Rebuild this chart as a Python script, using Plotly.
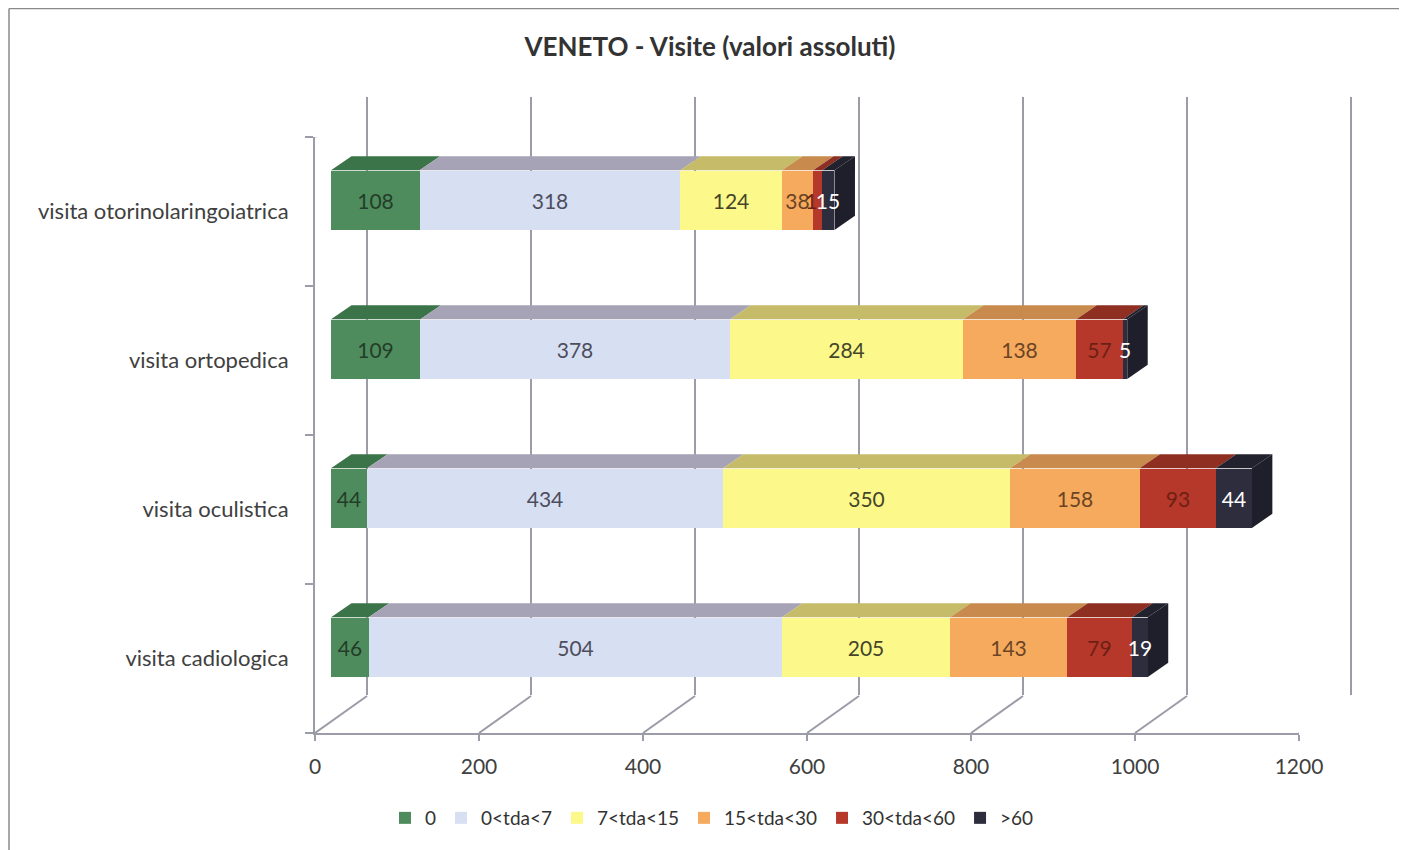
import numpy as np
import plotly.graph_objects as go

# ---------------- data ----------------
categories = ["visita cadiologica", "visita oculistica", "visita ortopedica",
              "visita otorinolaringoiatrica"]
series_names = ["0", "0<tda<7", "7<tda<15", "15<tda<30", "30<tda<60", ">60"]
s_0 = [46, 44, 109, 108]
s_0_7 = [504, 434, 378, 318]
s_7_15 = [205, 350, 284, 124]
s_15_30 = [143, 158, 138, 38]
s_30_60 = [79, 93, 57, 11]
s_60 = [19, 44, 5, 15]
x_ticks = [0, 200, 400, 600, 800, 1000, 1200]
title_text = "VENETO - Visite (valori assoluti)"

series = [s_0, s_0_7, s_7_15, s_15_30, s_30_60, s_60]

# ---------------- styles ----------------
FONT = "Lato, 'Open Sans', sans-serif"
front_cols = ["#4f8c5d", "#d7dff3", "#fcf98a", "#f5aa5e", "#b5382a", "#2d2d3e"]
top_cols = ["#3b7449", "#a7a3b6", "#c6bb68", "#c98a4e", "#8e2f22", "#22222e"]
side_col = "#1f1f2b"
text_cols = ["#233d29", "#4d4d5c", "#45452a", "#6b4424", "#6e1f14", "#ffffff"]
grid_col = "#9c9ca8"
W, H = 1407, 850
OFF = 8  # page body margin

px_per = 984 / 1200.0
def fx(p):
    return (p - OFF) / W
def fy(p):
    return (H - (p - OFF)) / H

bar_w = 0.4
dx = 25.0      # depth in value units
dy = 0.095     # depth in category units

ypos = list(range(len(categories)))

fig = go.Figure()

# back wall subplot (x, y) - grid only
fig.add_trace(go.Scatter(x=[], y=[], xaxis="x", yaxis="y", showlegend=False, hoverinfo="skip"))

# bars on (x2, y2)
for name, vals, fc, tc in zip(series_names, series, front_cols, text_cols):
    fig.add_trace(go.Bar(
        name=name, x=vals, y=ypos, orientation="h", xaxis="x2", yaxis="y2",
        width=bar_w, marker=dict(color=fc, line=dict(width=0)),
        text=[str(v) for v in vals], textposition="inside", insidetextanchor="middle",
        constraintext="none", textangle=0,
        textfont=dict(family=FONT, size=21, color=tc), cliponaxis=False,
    ))

# front axes subplot (x3, y3)
fig.add_trace(go.Scatter(x=[], y=[], xaxis="x3", yaxis="y3", showlegend=False, hoverinfo="skip"))

shapes = []
# 3D faces of bars
arr = np.array(series, dtype=float)  # (series, categories)
ends = np.cumsum(arr, axis=0)
starts = ends - arr
for i in range(arr.shape[0]):
    for j, c in enumerate(ypos):
        x0, x1 = starts[i, j], ends[i, j]
        yt = c + bar_w / 2
        path = (f"M {x0},{yt} L {x1},{yt} L {x1 + dx},{yt + dy} "
                f"L {x0 + dx},{yt + dy} Z")
        shapes.append(dict(type="path", xref="x2", yref="y2", path=path,
                           fillcolor=top_cols[i], line=dict(width=0), layer="below"))
for j, c in enumerate(ypos):
    x1 = ends[-1, j]
    yb, yt = c - bar_w / 2, c + bar_w / 2
    path = (f"M {x1},{yb} L {x1},{yt} L {x1 + dx},{yt + dy} L {x1 + dx},{yb + dy} Z")
    shapes.append(dict(type="path", xref="x2", yref="y2", path=path,
                       fillcolor=side_col, line=dict(width=0), layer="below"))

# floor slants and left-wall top slant
for v in x_ticks:
    shapes.append(dict(type="line", xref="x3", yref="y3", xsizemode="pixel", xanchor=v,
                       x0=0, x1=52, ysizemode="pixel", yanchor=-0.5, y0=0, y1=37,
                       line=dict(color=grid_col, width=2), layer="below"))
shapes.append(dict(type="line", xref="x3", yref="y3", xsizemode="pixel", xanchor=0,
                   x0=0, x1=52, ysizemode="pixel", yanchor=3.5, y0=0, y1=37,
                   line=dict(color=grid_col, width=2), layer="below"))
# outer frame (top and left edges visible in the reference)
shapes.append(dict(type="line", xref="paper", yref="paper", x0=fx(9), x1=fx(1412),
                   y0=fy(8.5), y1=fy(8.5), line=dict(color="#8a8a8a", width=1.5), layer="below"))
shapes.append(dict(type="line", xref="paper", yref="paper", x0=fx(9), x1=fx(9),
                   y0=fy(8.5), y1=fy(860), line=dict(color="#8a8a8a", width=1.5), layer="below"))

pad = 2
fig.update_layout(
    template="none",
    width=W, height=H, autosize=False,
    margin=dict(l=0, r=0, t=0, b=0, pad=0, autoexpand=False),
    paper_bgcolor="white", plot_bgcolor="rgba(0,0,0,0)",
    barmode="stack", bargap=0,
    font=dict(family=FONT, color="#404040"),
    title=dict(text=f"<b>{title_text}</b>", x=fx(710), xanchor="center", xref="paper",
               y=fy(47), yanchor="middle", yref="paper",
               font=dict(family=FONT, size=26, color="#333333")),
    showlegend=True,
    legend=dict(orientation="h", x=fx(712), xanchor="center", y=fy(818), yanchor="middle",
                traceorder="normal",
                font=dict(family=FONT, size=19, color="#333333"), itemwidth=30,
                bgcolor="rgba(0,0,0,0)"),
    # back wall
    xaxis=dict(domain=[fx(367 - pad * px_per), fx(1351 + pad * px_per)],
               range=[-pad, 1200 + pad], anchor="y", tickvals=x_ticks, showticklabels=False,
               ticks="", showgrid=True, gridcolor=grid_col, gridwidth=2, zeroline=False,
               showline=False, fixedrange=True, automargin=False),
    yaxis=dict(domain=[fy(695), fy(97)], range=[0, 1], anchor="x", showgrid=False,
               showticklabels=False, zeroline=False, showline=False, ticks="",
               fixedrange=True, automargin=False),
    # bars
    xaxis2=dict(domain=[fx(331), fx(331 + 984)], range=[0, 1200], anchor="y2",
                showgrid=False, showticklabels=False, zeroline=False, showline=False,
                ticks="", fixedrange=True, automargin=False),
    yaxis2=dict(domain=[fy(721.6), fy(125.6)], range=[-0.5, 3.5], anchor="x2",
                showgrid=False, showticklabels=False, zeroline=False, showline=False,
                ticks="", fixedrange=True, automargin=False),
    # front axes
    xaxis3=dict(domain=[fx(315), fx(1299)], range=[0, 1200], anchor="y3",
                tickvals=x_ticks, ticktext=[str(v) for v in x_ticks], ticks="outside",
                ticklen=6, tickwidth=2, tickcolor=grid_col, showline=True, linecolor=grid_col,
                linewidth=2, showgrid=False, zeroline=False, ticklabelstandoff=8,
                tickfont=dict(family=FONT, size=21, color="#404040"), fixedrange=True,
                automargin=False),
    yaxis3=dict(domain=[fy(733), fy(137)], range=[-0.5, 3.5], anchor="x3",
                tickvals=ypos, ticktext=categories, ticks="", showline=True,
                linecolor=grid_col, linewidth=2, showgrid=False, zeroline=False,
                ticklabelstandoff=20, tickfont=dict(family=FONT, size=22, color="#404040"),
                minor=dict(tickmode="array", tickvals=[-0.5, 0.5, 1.5, 2.5, 3.5],
                           ticks="outside", ticklen=8, tickwidth=2, tickcolor=grid_col,
                           showgrid=False),
                fixedrange=True, automargin=False),
    shapes=shapes,
)

fig.write_html("out.html")
